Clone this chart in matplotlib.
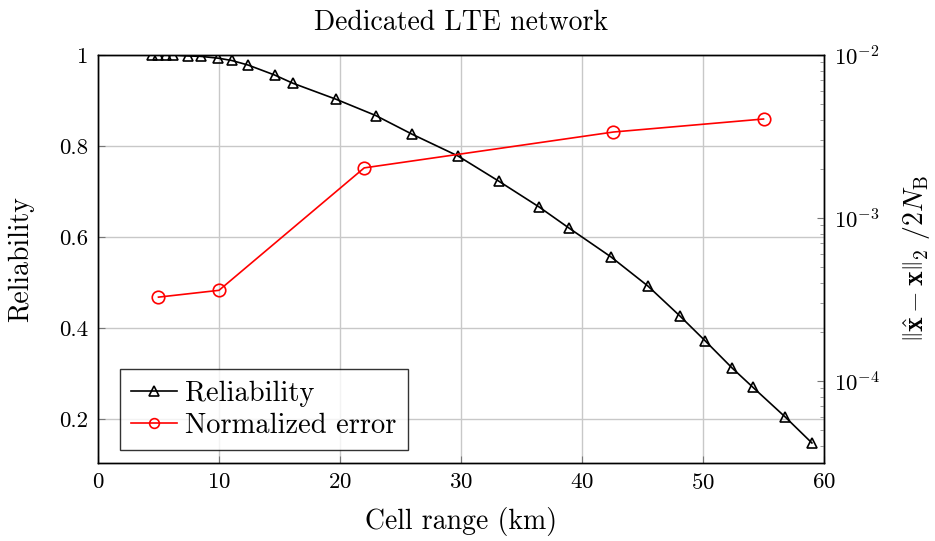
import numpy as np
import matplotlib
matplotlib.use('Agg')
import matplotlib.pyplot as plt

plt.rcParams['font.family'] = 'serif'
plt.rcParams['font.serif'] = ['cmr10']
plt.rcParams['mathtext.fontset'] = 'cm'
plt.rcParams['axes.formatter.use_mathtext'] = True

# reliability vs. cell range
rel_range = [4.45, 5.0, 5.6, 6.2, 7.45, 8.5, 9.95, 11.05, 12.4, 14.6, 16.1, 19.65,
             22.95, 25.95, 29.75, 33.1, 36.45, 38.9, 42.4, 45.45, 48.1, 50.2,
             52.4, 54.1, 56.8, 59.0]
reliability = [1.0, 1.0, 1.0, 1.0, 0.998, 0.997, 0.993, 0.988, 0.978, 0.956, 0.938, 0.903,
               0.867, 0.826, 0.778, 0.723, 0.666, 0.62, 0.556, 0.492, 0.426, 0.371,
               0.312, 0.27, 0.204, 0.147]

# normalized estimation error
err_range = [5, 10, 22, 42.6, 55]
norm_error = [3.27e-4, 3.6e-4, 2.03e-3, 3.37e-3, 4.05e-3]

fig = plt.figure(figsize=(9.35, 5.41), dpi=100)
ax = fig.add_axes([0.1048, 0.1442, 0.7765, 0.7541])
ax2 = ax.twinx()

l1, = ax.plot(rel_range, reliability, color='black', lw=1.2, marker='^',
              markersize=7, markerfacecolor='none', markeredgewidth=1.2, label='Reliability')
l2, = ax2.plot(err_range, norm_error, color='red', lw=1.2, marker='o',
               markersize=9, markerfacecolor='none', markeredgewidth=1.2, label='Normalized error')

ax.set_xlim(0, 60)
ax.set_ylim(0.103, 1.0)
ax.set_xticks([0, 10, 20, 30, 40, 50, 60])
ax.set_yticks([0.2, 0.4, 0.6, 0.8, 1.0])
ax.set_yticklabels(['0.2', '0.4', '0.6', '0.8', '1'])
ax.grid(True, color='#c8c8c8', lw=1)

ax2.set_yscale('log')
ax2.set_ylim(3.14e-5, 1e-2)

for a in (ax, ax2):
    a.tick_params(direction='in', labelsize=16.5, length=5, color='#777777', pad=7)
    a.tick_params(which='minor', direction='in', length=3, color='#888888')
    for s in a.spines.values():
        s.set_linewidth(1.0)

ax.set_xlabel('Cell range (km)', fontsize=20, labelpad=10)
ax.set_ylabel('Reliability', fontsize=20, labelpad=18)
ax2.set_ylabel(r'$\left\|\hat{\mathbf{x}}-\mathbf{x}\right\|_2\ /2N_{\mathrm{B}}$',
               fontsize=20, labelpad=15)
ax.set_title('Dedicated LTE network', fontsize=20, pad=18)

leg = ax.legend([l1, l2], ['Reliability', 'Normalized error'], loc='lower left',
                bbox_to_anchor=(0.03, 0.032), fontsize=20.5, frameon=True, fancybox=False,
                edgecolor='black', borderaxespad=0, borderpad=0.4, handlelength=1.6,
                handletextpad=0.3, labelspacing=0.2)
leg.get_frame().set_linewidth(1.0)
for h in leg.legend_handles:
    h.set_markersize(7)

fig.savefig('out.png', dpi=100)
